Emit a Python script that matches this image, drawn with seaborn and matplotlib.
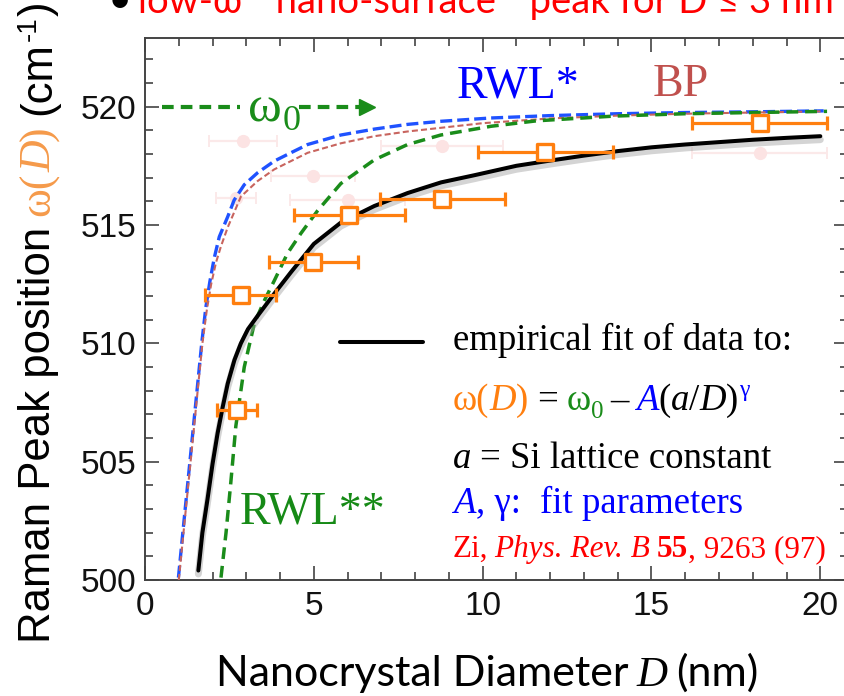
import matplotlib
matplotlib.use('Agg')
import matplotlib.pyplot as plt
import matplotlib.patheffects as pe
from matplotlib.lines import Line2D
from matplotlib.ticker import MultipleLocator
import seaborn as sns

# data (D in nm, omega in cm^-1)
omega0 = 520.0

D_meas = [2.73, 2.84, 4.99, 6.05, 8.81, 11.85, 18.2]
w_meas = [507.2, 512.02, 513.43, 515.43, 516.11, 518.07, 519.31]
D_meas_err = [0.6, 1.05, 1.31, 1.65, 1.85, 2.0, 2.0]

D_faint = [2.9, 4.98, 2.69, 6.0, 8.8, 18.2]
w_faint = [518.53, 517.08, 516.16, 516.04, 518.32, 518.04]
D_faint_err = [1.0, 1.25, 0.6, 1.7, 1.8, 2.0]

D_fit = [1.58, 1.7, 1.85, 2.0, 2.15, 2.3, 2.45, 2.65, 2.84, 3.05, 3.33, 3.83, 4.32, 5.0,
         5.8, 6.79, 7.78, 8.77, 9.75, 11.0, 12.0, 13.0, 14.0, 15.0, 16.0, 17.0, 18.0, 19.0, 20.0]
w_fit = [500.4, 502.0, 503.4, 504.9, 506.2, 507.3, 508.3, 509.3, 510.0, 510.6, 511.15, 512.1, 513.0, 514.2,
         515.1, 515.8, 516.35, 516.8, 517.1, 517.5, 517.72, 517.93, 518.12, 518.28, 518.4, 518.5, 518.6, 518.68, 518.75]

D_rwl1 = [0.99, 1.12, 1.26, 1.4, 1.54, 1.68, 1.8, 1.92, 2.05, 2.2, 2.45, 2.64, 2.94, 3.33, 3.83,
          4.32, 4.82, 5.8, 6.79, 7.78, 8.76, 10.25, 12.0, 14.0, 16.0, 18.0, 20.1]
w_rwl1 = [500.1, 502.0, 504.0, 506.0, 508.0, 510.0, 511.5, 512.6, 513.6, 514.5, 515.35, 516.05, 516.7, 517.2, 517.7,
          518.05, 518.4, 518.8, 519.05, 519.25, 519.38, 519.52, 519.62, 519.7, 519.75, 519.78, 519.82]

D_bp = [1.0, 1.14, 1.28, 1.42, 1.56, 1.7, 1.83, 1.96, 2.1, 2.25, 2.45, 2.84, 3.33, 3.83, 4.82,
        5.8, 6.79, 7.78, 10.0, 12.0, 14.0, 16.0, 18.0, 20.1]
w_bp = [500.0, 502.0, 504.0, 506.0, 508.0, 510.0, 511.4, 512.5, 513.4, 514.1, 514.9, 516.2, 516.85, 517.35, 518.05,
        518.45, 518.75, 518.95, 519.3, 519.5, 519.62, 519.7, 519.75, 519.8]

D_rwl2 = [2.25, 2.4, 2.54, 2.69, 2.94, 3.24, 3.55, 3.83, 4.22, 4.62, 5.11, 5.8, 6.79, 7.78,
          8.76, 10.25, 11.6, 13.9, 16.0, 18.0, 20.2]
w_rwl2 = [500.1, 502.0, 504.1, 506.5, 509.0, 510.85, 511.85, 512.65, 513.8, 514.65, 515.6, 516.75, 517.75, 518.4,
          518.8, 519.17, 519.4, 519.6, 519.7, 519.75, 519.8]

x_ticks = [0, 5, 10, 15, 20]
y_ticks = [500, 505, 510, 515, 520]

ORANGE = '#ff7f0f'
BLUE = '#1f52ff'
GREEN = '#1a8c1a'
BPRED = '#c8645e'
SANS = ['Liberation Sans', 'DejaVu Sans']
SERIF = ['Liberation Serif', 'DejaVu Serif']
CAL = ['Lato', 'DejaVu Sans']

sns.set_theme(style='ticks')
plt.rcParams['font.family'] = SANS

W, H = 844, 696
fig = plt.figure(figsize=(W / 100, H / 100), dpi=100)
fig.patch.set_facecolor('white')
ax = fig.add_axes([145 / W, 116 / H, 703 / W, 542.5 / H])
ax.set_facecolor('white')

# faint background data
ax.errorbar(D_faint, w_faint, xerr=D_faint_err, fmt='o', ms=8.5, color='#fce3e3',
            ecolor='#fbe9e9', elinewidth=1.6, capsize=4, capthick=1.4, zorder=1)

# model curves
sns.lineplot(x=D_rwl1, y=w_rwl1, ax=ax, color=BLUE, linewidth=2.4, sort=False,
             estimator=None, linestyle=(0, (3.6, 1.5)), zorder=2)
sns.lineplot(x=D_bp, y=w_bp, ax=ax, color=BPRED, linewidth=1.5, sort=False,
             estimator=None, linestyle=(0, (2.9, 1.5)), zorder=3)
sns.lineplot(x=D_rwl2, y=w_rwl2, ax=ax, color=GREEN, linewidth=2.5, sort=False,
             estimator=None, linestyle=(0, (3.4, 2.0)), zorder=4)
sns.lineplot(x=D_fit, y=w_fit, ax=ax, color='black', linewidth=2.9, sort=False,
             estimator=None, zorder=5,
             path_effects=[pe.SimpleLineShadow(offset=(0, -2.5), shadow_color='#a0a0a0',
                                               alpha=0.45, linewidth=5), pe.Normal()])

# measured data
ax.errorbar(D_meas, w_meas, xerr=D_meas_err, fmt='none', ecolor=ORANGE,
            elinewidth=2.3, capsize=4.8, capthick=2.3, zorder=6)
sns.scatterplot(x=D_meas, y=w_meas, ax=ax, marker='s', s=125, facecolor='white',
                edgecolor=ORANGE, linewidth=2.4, zorder=7)

# omega_0 arrow
ax.plot([0.5, 2.8], [omega0, omega0], color=GREEN, lw=3, linestyle=(0, (2.8, 1.7)),
        dash_capstyle='butt', zorder=4)
ax.plot([4.55, 6.35], [omega0, omega0], color=GREEN, lw=3, linestyle=(0, (2.8, 1.7)),
        dash_capstyle='butt', zorder=4)
ax.plot([6.56], [omega0], marker='>', ms=11, color=GREEN, mec=GREEN, zorder=4)

ax.set_xlim(0, 20.82)
ax.set_ylim(500, 522.92)
ax.set_xticks(x_ticks)
ax.set_yticks(y_ticks)
ax.xaxis.set_minor_locator(MultipleLocator(1))
ax.yaxis.set_minor_locator(MultipleLocator(1))
ax.tick_params(which='both', direction='in', top=True, right=True, color='#333333', width=1.1)
ax.tick_params(which='major', length=10, labelsize=24, pad=6, labelcolor='#111111')
ax.tick_params(which='minor', length=5.5)
ax.tick_params(axis='x', which='major', pad=8)
for sp in ax.spines.values():
    sp.set_color('#444444')
    sp.set_linewidth(1.4)
ax.set_xlabel('')
ax.set_ylabel('')

renderer = fig.canvas.get_renderer()


def rich_text(x, y_top, pieces):
    # place coloured text pieces left to right (pixel coords, y from top)
    y = H - y_top
    pos = x
    for s, kw in pieces:
        kw = dict(kw)
        pos += kw.pop('gap', 0)
        dy = kw.pop('dy', 0)
        t = fig.text(pos / W, (y + dy) / H, s, ha='left', va='baseline', **kw)
        pos = t.get_window_extent(renderer).x1


def rich_text_up(base_x, y_bottom, pieces):
    # same, but rotated 90 degrees and running upwards from the bottom
    pos = H - y_bottom
    for s, kw in pieces:
        kw = dict(kw)
        pos += kw.pop('gap', 0)
        dy = kw.pop('dy', 0)
        t = fig.text((base_x - dy) / W, pos / H, s, ha='left', va='baseline',
                     rotation=90, rotation_mode='anchor', **kw)
        pos = t.get_window_extent(renderer).y1


# curve labels
fig.text(457 / W, (H - 97) / H, 'RWL*', color='#0000ff', fontsize=33, family=SERIF, va='baseline')
fig.text(653 / W, (H - 96) / H, 'BP', color='#c0504d', fontsize=33, family=SERIF, va='baseline')
fig.text(240 / W, (H - 524) / H, 'RWL**', color='#168a16', fontsize=33, family=SERIF, va='baseline')
rich_text(248, 121, [('ω', dict(color=GREEN, fontsize=37, family=SERIF)),
                     ('0', dict(color=GREEN, fontsize=26, family=SERIF, dy=-9, gap=1))])

# legend block
fig.add_artist(Line2D([340 / W, 423 / W], [(H - 342) / H] * 2, color='black', lw=2.9))
fs = 26.5
rich_text(453, 350, [('empirical fit of data to:', dict(color='black', fontsize=fs, family=SERIF))])
rich_text(453, 410, [
    ('ω(', dict(color=ORANGE, fontsize=fs, family=SERIF)),
    ('D', dict(color=ORANGE, fontsize=fs, family=SERIF, style='italic')),
    (')', dict(color=ORANGE, fontsize=fs, family=SERIF)),
    ('=', dict(color='black', fontsize=fs, family=SERIF, gap=9)),
    ('ω', dict(color=GREEN, fontsize=fs, family=SERIF, gap=9)),
    ('0', dict(color=GREEN, fontsize=18, family=SERIF, dy=-8)),
    ('–', dict(color='black', fontsize=fs, family=SERIF, gap=7)),
    ('A', dict(color='#0000ff', fontsize=fs, family=SERIF, style='italic', gap=7)),
    ('(', dict(color='black', fontsize=fs, family=SERIF)),
    ('a', dict(color='black', fontsize=fs, family=SERIF, style='italic')),
    ('/', dict(color='black', fontsize=fs, family=SERIF)),
    ('D', dict(color='black', fontsize=fs, family=SERIF, style='italic')),
    (')', dict(color='black', fontsize=fs, family=SERIF)),
    ('γ', dict(color='#0000ff', fontsize=17, family=SERIF, dy=14, gap=1)),
])
rich_text(453, 468, [
    ('a', dict(color='black', fontsize=fs, family=SERIF, style='italic')),
    ('= Si lattice constant', dict(color='black', fontsize=fs, family=SERIF, gap=9)),
])
rich_text(453, 513, [
    ('A', dict(color='#0000ff', fontsize=fs, family=SERIF, style='italic')),
    (', γ:', dict(color='#0000ff', fontsize=fs, family=SERIF)),
    ('fit parameters', dict(color='#0000ff', fontsize=fs, family=SERIF, gap=20)),
])
rich_text(453, 557, [
    ('Zi,', dict(color='#ff0000', fontsize=22.5, family=SERIF)),
    ('Phys. Rev. B', dict(color='#ff0000', fontsize=22.5, family=SERIF, style='italic', gap=6)),
    ('55', dict(color='#ff0000', fontsize=22.5, family=SERIF, weight='bold', gap=6)),
    (', 9263 (97)', dict(color='#ff0000', fontsize=22.5, family=SERIF)),
])

# axis labels
rich_text_up(50, 643, [
    ('Raman Peak position', dict(color='black', fontsize=31.5, family=SANS)),
    ('ω(', dict(color='#f59a4a', fontsize=31.5, family=SERIF, gap=11)),
    ('D', dict(color='#f59a4a', fontsize=31.5, family=SERIF, style='italic')),
    (')', dict(color='#f59a4a', fontsize=31.5, family=SERIF)),
    ('(cm', dict(color='black', fontsize=31.5, family=SANS, gap=11)),
    ('-1', dict(color='black', fontsize=20, family=SANS, dy=14, gap=1)),
    (')', dict(color='black', fontsize=31.5, family=SANS, gap=1)),
])
rich_text(216, 686, [
    ('Nanocrystal Diameter', dict(color='black', fontsize=31, family=CAL)),
    ('D', dict(color='black', fontsize=31, family=SERIF, style='italic', gap=8)),
    ('(nm)', dict(color='black', fontsize=31, family=CAL, gap=9)),
])

# cropped slide bullet above the chart
fig.text(108 / W, (H - 13.5) / H, '•', color='black', fontsize=30, family=CAL, va='baseline')
fig.text(138 / W, (H - 13.5) / H, 'low-ω  “nano-surface”  peak for D ≤ 3 nm', color='#ff0000',
         fontsize=27.5, family=CAL, va='baseline')

fig.savefig('out.png', dpi=100)
